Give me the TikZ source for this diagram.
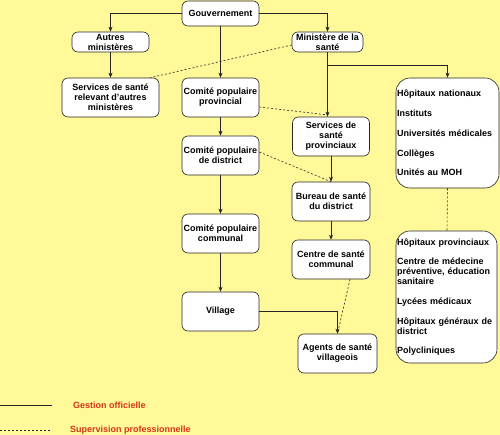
\documentclass[tikz,border=0pt]{standalone}
\usepackage{fontspec}
\setmainfont{Liberation Sans}
\usetikzlibrary{arrows.meta, positioning, calc}
\definecolor{bgyellow}{RGB}{255, 249, 153}
\definecolor{legendred}{RGB}{214, 52, 24}
\tikzset{
  box/.style={draw=black!85, fill=white, rounded corners=6pt, line width=0.6pt, inner sep=0pt, align=center, font=\fontsize{9}{10}\selectfont\bfseries},
  listbox/.style={draw=black!85, fill=white, rounded corners=14pt, line width=0.6pt, inner xsep=1pt, inner ysep=0pt, align=left, font=\fontsize{9}{10}\selectfont\bfseries},
  gestion/.style={-{Stealth[length=5pt,width=4pt]}, line width=0.6pt, black!85},
  superv/.style={line width=0.6pt, black!85, dash pattern=on 2pt off 2pt},
  legtext/.style={anchor=west, inner sep=0pt, text=legendred, font=\fontsize{9}{10}\selectfont\bfseries}
}
\begin{document}
\begin{tikzpicture}[x=1pt, y=-1pt]
  \fill[bgyellow] (0,0) rectangle (500,435);
  \useasboundingbox (0,0) rectangle (500,435);

  % Left column
  \node[box, minimum width=77pt, minimum height=25pt] (gouv) at (220.5, 13.5) {Gouvernement};
  \node[box, minimum width=77pt, minimum height=20pt] (autres) at (110.5, 42) {Autres\\ministères};
  \node[box, minimum width=97pt, minimum height=39pt] (srel) at (110.5, 97.5) {Services de santé\\relevant d'autres\\ministères};

  % Committees
  \node[box, minimum width=77pt, minimum height=39pt] (cprov) at (220.5, 97.5) {Comité populaire\\provincial};
  \node[box, minimum width=77pt, minimum height=39pt] (cdist) at (220.5, 155.5) {Comité populaire\\de district};
  \node[box, minimum width=77pt, minimum height=39pt] (ccom) at (220.5, 233.5) {Comité populaire\\communal};
  \node[box, minimum width=77pt, minimum height=39pt] (vil) at (220.5, 311.5) {Village};

  % Health services
  \node[box, minimum width=71pt, minimum height=20pt] (min) at (327.5, 42) {Ministère de la\\santé};
  \node[box, minimum width=77pt, minimum height=39pt] (sprov) at (331, 136.5) {Services de\\santé\\provinciaux};
  \node[box, minimum width=78pt, minimum height=39pt] (bur) at (331, 201.5) {Bureau de santé\\du district};
  \node[box, minimum width=78pt, minimum height=39pt] (csc) at (331, 259.5) {Centre de santé\\communal};
  \node[box, minimum width=79pt, minimum height=39pt] (agents) at (337.5, 353.5) {Agents de santé\\villageois};

  % Lists
  \node[listbox, minimum width=103pt, minimum height=110pt, text width=101pt] (hnat) at (447.5, 133) {Hôpitaux nationaux\\[9.7pt]Instituts\\[9.7pt]Universités médicales\\[9.7pt]Collèges\\[9.7pt]Unités au MOH};
  \node[listbox, minimum width=101pt, minimum height=132pt, text width=99pt] (hprov) at (446.5, 297) {Hôpitaux provinciaux\\[9.7pt]Centre de médecine\\préventive, éducation\\sanitaire\\[9.7pt]Lycées médicaux\\[9.7pt]Hôpitaux généraux de\\district\\[9.7pt]Polycliniques};

  % Official management
  \draw[gestion] (gouv.west) -| (autres.north);
  \draw[gestion] (gouv.east) -| (min.north);
  \draw[gestion] (gouv.south) -- (cprov.north);
  \draw[gestion] (autres.south) -- (srel.north);
  \draw[gestion] (cprov.south) -- (cdist.north);
  \draw[gestion] (cdist.south) -- (ccom.north);
  \draw[gestion] (ccom.south) -- (vil.north);
  \draw[gestion] (vil.east) -| (agents.north);
  \draw[gestion] (min.south) -- (min.south |- sprov.north);
  \draw[gestion] (min.south) -- ++(0,13) -| (hnat.north);
  \draw[gestion] (sprov.south) -- (bur.north);
  \draw[gestion] (bur.south) -- (csc.north);

  % Professional supervision
  \draw[superv] ($(min.west)+(0,3)$) -- ($(srel.north east)+(-9,0)$);
  \draw[superv] ($(cprov.east)+(0,9.5)$) -- ($(min.south |- sprov.north)+(-2,-2)$);
  \draw[superv] ($(cdist.east)+(0,-3.5)$) -- (bur.north);
  \draw[superv] ($(csc.south)+(19,0)$) -- (agents.north);
  \draw[superv] (hnat.south) -- ($(hprov.north)+(0.5,0)$);

  % Legend
  \coordinate (lg1a) at (0, 405);
  \coordinate (lg1b) at (52, 405);
  \coordinate (lg2a) at (0, 430);
  \coordinate (lg2b) at (52, 430);
  \draw[line width=0.6pt, black!85] (lg1a) -- (lg1b);
  \draw[superv] (lg2a) -- (lg2b);
  \node[legtext] (leg1) at (73, 405) {Gestion officielle};
  \node[legtext] (leg2) at (70, 430) {Supervision professionnelle};
\end{tikzpicture}
\end{document}
